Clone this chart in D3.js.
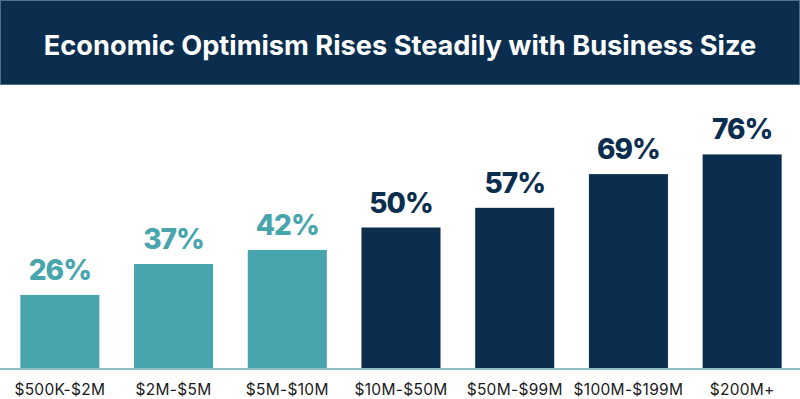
<!DOCTYPE html>
<html>
<head>
<meta charset="utf-8">
<script src="https://cdn.jsdelivr.net/npm/d3@7"></script>
<style>
  body { margin: 0; background: #fff; }
  svg { display: block; font-family: Inter, "Noto Sans", sans-serif; }
</style>
</head>
<body>
<div id="chart"></div>
<script>
// Data
const categories = ["$500K-$2M", "$2M-$5M", "$5M-$10M", "$10M-$50M", "$50M-$99M", "$100M-$199M", "$200M+"];
const values = [26, 37, 42, 50, 57, 69, 76];
const groups = ["small", "small", "small", "large", "large", "large", "large"];
const title = "Economic Optimism Rises Steadily with Business Size";

const width = 800;
const height = 399;
const baseline = 368;

const navy = "#0b2e4f";
const teal = "#48a5ae";

const svg = d3.select("#chart")
    .append("svg")
    .attr("width", width)
    .attr("height", height);

// Title banner
svg.append("rect")
    .attr("x", 0.5)
    .attr("y", 0.5)
    .attr("width", width - 1)
    .attr("height", 84)
    .attr("fill", navy)
    .attr("stroke", "#4d7190")
    .attr("stroke-width", 1);

svg.append("text")
    .attr("x", width / 2)
    .attr("y", 55)
    .attr("text-anchor", "middle")
    .attr("fill", "#fff")
    .attr("font-size", 27.2)
    .attr("font-weight", 700)
    .text(title);

// Scales
const x = d3.scaleBand()
    .domain(categories)
    .range([3, 799])
    .paddingInner(0.305)
    .paddingOuter(0.1525);

const y = d3.scaleLinear()
    .domain([0, 100])
    .range([baseline, 87]);

const color = d3.scaleOrdinal()
    .domain(["small", "large"])
    .range([teal, navy]);

// Bars
svg.selectAll(".bar")
    .data(values)
    .enter()
    .append("rect")
    .attr("class", "bar")
    .attr("x", (d, i) => x(categories[i]))
    .attr("y", d => y(d))
    .attr("width", x.bandwidth())
    .attr("height", d => baseline - y(d))
    .attr("fill", (d, i) => color(groups[i]));

// Value labels
svg.selectAll(".value")
    .data(values)
    .enter()
    .append("text")
    .attr("class", "value")
    .attr("x", (d, i) => x(categories[i]) + x.bandwidth() / 2)
    .attr("y", d => y(d) - 15)
    .attr("text-anchor", "middle")
    .attr("fill", (d, i) => color(groups[i]))
    .attr("font-size", 28)
    .attr("font-weight", 800)
    .attr("letter-spacing", -1)
    .text(d => d + "%");

// Baseline
svg.append("line")
    .attr("x1", 0)
    .attr("x2", width)
    .attr("y1", baseline + 1)
    .attr("y2", baseline + 1)
    .attr("stroke", "#6aaab5")
    .attr("stroke-width", 1.5);

// Category axis
const xAxis = d3.axisBottom(x).tickSize(0).tickPadding(14);
svg.append("g")
    .attr("transform", "translate(0," + (baseline + 2) + ")")
    .call(xAxis)
    .call(g => g.select(".domain").remove())
    .selectAll("text")
    .attr("fill", "#1a1a1a")
    .attr("font-size", 15.5)
    .attr("letter-spacing", 0.3)
    .attr("font-family", "Inter, sans-serif");
</script>
</body>
</html>
